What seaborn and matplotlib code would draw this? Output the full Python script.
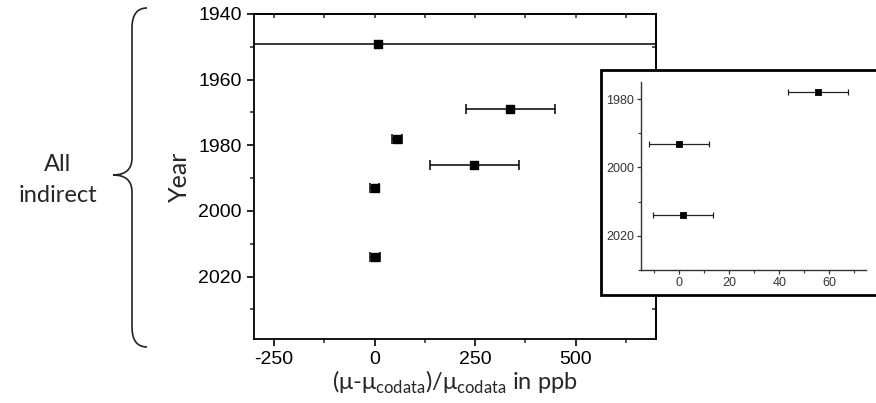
import matplotlib
matplotlib.use("Agg")
import matplotlib.pyplot as plt
import seaborn as sns
import pandas as pd
from matplotlib.patches import Rectangle, PathPatch
from matplotlib.path import Path
from matplotlib.ticker import MultipleLocator

sns.set_theme(style="ticks")
plt.rcParams['font.family'] = ['Liberation Sans', 'DejaVu Sans']
plt.rcParams['mathtext.fontset'] = 'custom'
plt.rcParams['mathtext.rm'] = 'Lato'
plt.rcParams['axes.unicode_minus'] = False

# Data: year of measurement, offset from CODATA (ppb), uncertainty (ppb)
years = [1949, 1969, 1978, 1986, 1993, 2014]
offsets = [8, 338, 55.5, 248, 0, 1.5]
errors = [2000, 110, 12, 110, 12, 12]

# the inset zooms on the three precise ones
inset_years = [1978, 1993, 2014]
inset_offsets = [55.5, 0, 1.5]
inset_errors = [12, 12, 12]

df = pd.DataFrame({'year': years, 'offset': offsets, 'err': errors})
dfi = pd.DataFrame({'year': inset_years, 'offset': inset_offsets, 'err': inset_errors})

W, H = 876, 403
fig = plt.figure(figsize=(W / 100, H / 100), dpi=100)


def fx(px):
    return px / W


def fy(py):
    return 1 - py / H


# ---- main axes
ax = fig.add_axes([fx(254), fy(339), fx(656 - 254), (339 - 14) / H])
ax.errorbar(df['offset'], df['year'], xerr=df['err'], fmt='none',
            ecolor='black', elinewidth=1.1, capsize=3.5, capthick=1.1, zorder=2)
sns.scatterplot(data=df, x='offset', y='year', marker='s', s=28, color='black',
                edgecolor='black', linewidth=1.0, ax=ax, zorder=3)
ax.set_xlim(-300, 700)
ax.set_ylim(2039, 1940)
ax.xaxis.set_major_locator(MultipleLocator(250))
ax.xaxis.set_minor_locator(MultipleLocator(125))
ax.yaxis.set_major_locator(MultipleLocator(20))
ax.yaxis.set_minor_locator(MultipleLocator(10))
for s in ax.spines.values():
    s.set_linewidth(1.3)
    s.set_color('black')
ax.tick_params(which='major', direction='out', length=5, width=1.2, labelsize=14,
               pad=4, colors='black')
ax.tick_params(which='minor', direction='out', length=3, width=1.1)
ax.set_xlabel(r'(μ-μ$_{\mathrm{codata}}$)/μ$_{\mathrm{codata}}$ in ppb',
              fontsize=17, family='Lato', labelpad=0)
ax.set_ylabel('Year', fontsize=18, family='Lato', labelpad=5)

# mirrored inward ticks on top / right
top = ax.secondary_xaxis('top')
top.xaxis.set_major_locator(MultipleLocator(250))
top.xaxis.set_minor_locator(MultipleLocator(125))
top.tick_params(which='both', direction='in', length=3, width=1.1, labeltop=False)
right = ax.secondary_yaxis('right')
right.yaxis.set_major_locator(MultipleLocator(20))
right.yaxis.set_minor_locator(MultipleLocator(10))
right.tick_params(which='both', direction='in', length=3, width=1.1, labelright=False)

# ---- inset frame
frame = Rectangle((fx(601), fy(295)), fx(900 - 601), (295 - 70) / H,
                  transform=fig.transFigure, facecolor='white', edgecolor='black',
                  linewidth=2, zorder=5)
fig.add_artist(frame)

axi = fig.add_axes([fx(641), fy(270), fx(866 - 641), (270 - 82) / H], zorder=6)
axi.patch.set_alpha(0)
axi.errorbar(dfi['offset'], dfi['year'], xerr=dfi['err'], fmt='none',
             ecolor='#222222', elinewidth=0.9, capsize=2.5, capthick=0.9, zorder=2)
sns.scatterplot(data=dfi, x='offset', y='year', marker='s', s=24, color='black',
                edgecolor='black', linewidth=0.6, ax=axi, zorder=3)
axi.set_xlim(-15.3, 74.7)
axi.set_ylim(2030, 1975)
axi.xaxis.set_major_locator(MultipleLocator(20))
axi.xaxis.set_minor_locator(MultipleLocator(10))
axi.yaxis.set_major_locator(MultipleLocator(20))
axi.yaxis.set_minor_locator(MultipleLocator(10))
sns.despine(ax=axi)
for side in ['left', 'bottom']:
    axi.spines[side].set_linewidth(1.0)
    axi.spines[side].set_color('#333333')
axi.tick_params(which='major', direction='out', length=3, width=0.9, labelsize=9,
                pad=2, colors='#333333')
axi.tick_params(which='minor', direction='out', length=2, width=0.8, colors='#333333')
axi.set_xlabel('')
axi.set_ylabel('')

# ---- curly brace and group label
verts = [(147, 8), (132, 8), (132, 28), (132, 158), (132, 175), (113, 175),
         (132, 175), (132, 192), (132, 327), (132, 347), (147, 347)]
codes = [Path.MOVETO, Path.CURVE3, Path.CURVE3, Path.LINETO, Path.CURVE3, Path.CURVE3,
         Path.CURVE3, Path.CURVE3, Path.LINETO, Path.CURVE3, Path.CURVE3]
brace = Path([(fx(x), fy(y)) for x, y in verts], codes)
fig.add_artist(PathPatch(brace, transform=fig.transFigure, facecolor='none',
                         edgecolor='#222222', linewidth=1.2))
fig.text(fx(58), fy(180), 'All\nindirect', ha='center', va='center',
         fontsize=17, family='Lato', linespacing=1.55)

fig.savefig('out.png', dpi=100)
